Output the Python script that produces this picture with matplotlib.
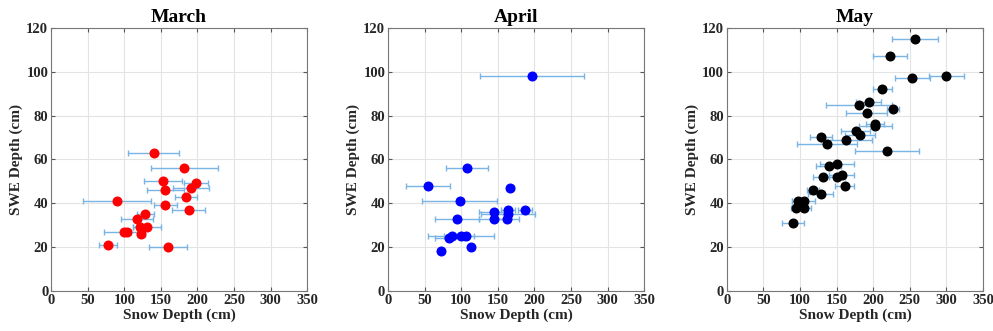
import numpy as np
import matplotlib
matplotlib.use('Agg')
import matplotlib.pyplot as plt

# values
march_snow = [140, 182, 153, 198, 191, 156, 184, 90, 156, 188, 129, 117, 122, 131, 100, 104, 123, 78, 160]
march_swe = [63, 56, 50, 49, 47, 46, 43, 41, 39, 37, 35, 33, 29, 29, 27, 27, 26, 21, 20]
march_err = [35, 46, 26, 16, 25, 25, 15, 46, 16, 23, 11, 22, 10, 19, 27, 5, 5, 12, 26]

april_snow = [197, 108, 55, 167, 98, 187, 164, 145, 164, 94, 145, 162, 87, 100, 107, 84, 113, 73]
april_swe = [98, 56, 48, 47, 41, 37, 37, 36, 35, 33, 33, 33, 25, 25, 25, 24, 20, 18]
april_err = [71, 29, 30, 5, 51, 10, 9, 20, 37, 30, 20, 17, 11, 45, 10, 20, 3, 4]

may_snow = [257, 223, 300, 253, 212, 194, 181, 227, 191, 202, 203, 176, 182, 129, 163,
            137, 219, 150, 139, 157, 132, 150, 161, 118, 128, 97, 105, 95, 106, 90]
may_swe = [115, 107, 98, 97, 92, 86, 85, 83, 81, 76, 75, 73, 71, 70, 69,
           67, 64, 58, 57, 53, 52, 52, 48, 46, 44, 41, 41, 38, 38, 31]
may_err = [31, 23, 24, 24, 13, 17, 45, 8, 28, 12, 22, 20, 21, 15, 35,
           41, 44, 23, 17, 17, 15, 11, 13, 8, 17, 8, 16, 8, 9, 15]

panels = [
    ("March", march_snow, march_swe, march_err, "red"),
    ("April", april_snow, april_swe, april_err, "blue"),
    ("May", may_snow, may_swe, may_err, "black"),
]

serif = ['Liberation Serif', 'DejaVu Serif']
fig = plt.figure(figsize=(9.93, 3.31), dpi=100)
lefts = [0.0514, 0.3907, 0.732]

for left, (title, snow, swe, err, col) in zip(lefts, panels):
    ax = fig.add_axes([left, 0.121, 0.258, 0.795])
    ax.errorbar(snow, swe, xerr=err, fmt='none', ecolor='#7ab4e4',
                elinewidth=1.0, capsize=2.0, capthick=1.0, zorder=2)
    ax.plot(snow, swe, 'o', color=col, ms=6.2, zorder=3)
    ax.set_xlim(0, 350)
    ax.set_ylim(0, 120)
    ax.set_xticks(np.arange(0, 351, 50))
    ax.set_yticks(np.arange(0, 121, 20))
    ax.grid(True, color='#e3e3e3', lw=0.8)
    ax.set_axisbelow(True)
    ax.tick_params(direction='in', length=3, top=True, right=True,
                   color='#555555', pad=2)
    for lab in ax.get_xticklabels() + ax.get_yticklabels():
        lab.set_fontfamily(serif)
        lab.set_fontweight('bold')
        lab.set_fontsize(10.5)
        lab.set_color('#262626')
    for sp in ax.spines.values():
        sp.set_color('#777777')
    ax.set_title(title, family=serif, fontweight='bold', fontsize=14, pad=4)
    ax.set_xlabel("Snow Depth (cm)", family=serif, fontweight='bold',
                  fontsize=11, labelpad=1, color='#262626')
    ax.set_ylabel("SWE Depth (cm)", family=serif, fontweight='bold',
                  fontsize=11, labelpad=2, color='#262626')

fig.savefig("out.png")
